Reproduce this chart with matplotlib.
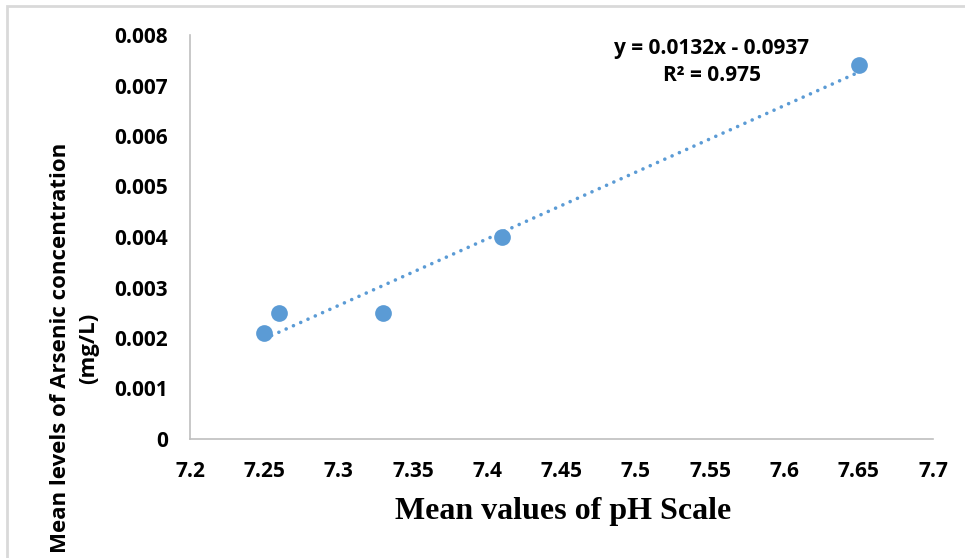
import numpy as np
import matplotlib.pyplot as plt
from matplotlib.patches import Rectangle

# mean pH vs mean arsenic level (mg/L)
ph = [7.25, 7.26, 7.33, 7.41, 7.65]
arsenic = [0.0021, 0.0025, 0.0025, 0.0040, 0.0074]
xticks = [7.2, 7.25, 7.3, 7.35, 7.4, 7.45, 7.5, 7.55, 7.6, 7.65, 7.7]
yticks = [0, 0.001, 0.002, 0.003, 0.004, 0.005, 0.006, 0.007, 0.008]

blue = "#5B9BD5"
fig = plt.figure(figsize=(9.65, 5.58), dpi=100)
ax = fig.add_axes([190/965, 119/558, 743/965, 404/558])

# linear trendline
slope, icept = np.polyfit(ph, arsenic, 1)
xs = np.array([min(ph), max(ph)])
ax.plot(xs, slope*xs + icept, color=blue, lw=2.6,
        linestyle=(0, (0.01, 2.2)), dash_capstyle="round", zorder=2)
ax.scatter(ph, arsenic, s=145, color=blue, zorder=3, linewidths=0)

ax.set_xlim(7.2, 7.7)
ax.set_ylim(0, 0.008)
ax.set_xticks(xticks)
ax.set_xticklabels([f"{v:g}" for v in xticks])
ax.set_yticks(yticks)
ax.set_yticklabels([f"{v:g}" if v else "0" for v in yticks])
ax.tick_params(length=0)
ax.tick_params(axis="y", pad=16)
ax.tick_params(axis="x", pad=16)
for lab in ax.get_xticklabels() + ax.get_yticklabels():
    lab.set_fontfamily("Open Sans")
    lab.set_fontweight("bold")
    lab.set_fontsize(15)
for s in ["top", "right"]:
    ax.spines[s].set_visible(False)
for s in ["left", "bottom"]:
    ax.spines[s].set_color("#BFBFBF")
    ax.spines[s].set_linewidth(1.2)

r2 = np.corrcoef(ph, arsenic)[0, 1] ** 2
ax.text(7.551, 0.00795, f"y = {slope:.4f}x - {abs(icept):.4f}\nR² = {r2:.3f}",
        ha="center", va="top", fontfamily="Open Sans", fontweight="bold",
        fontsize=15, linespacing=1.4)

fig.text(563/965, 1 - 512/558, "Mean values of pH Scale", ha="center", va="center",
         fontfamily="Liberation Serif", fontweight="bold", fontsize=23)
fig.text(75/965, 1 - 348/558, "Mean levels of Arsenic concentration\n(mg/L)",
         ha="center", va="center", rotation=90, multialignment="center",
         fontfamily="Open Sans", fontweight="bold", fontsize=16, linespacing=1.45)

fig.patches.append(Rectangle((7/965, -0.05), 1.1, 1 - 6/558 + 0.05,
                             transform=fig.transFigure, fill=False,
                             edgecolor="#D9D9D9", lw=2))
fig.savefig("out.png", dpi=100)
